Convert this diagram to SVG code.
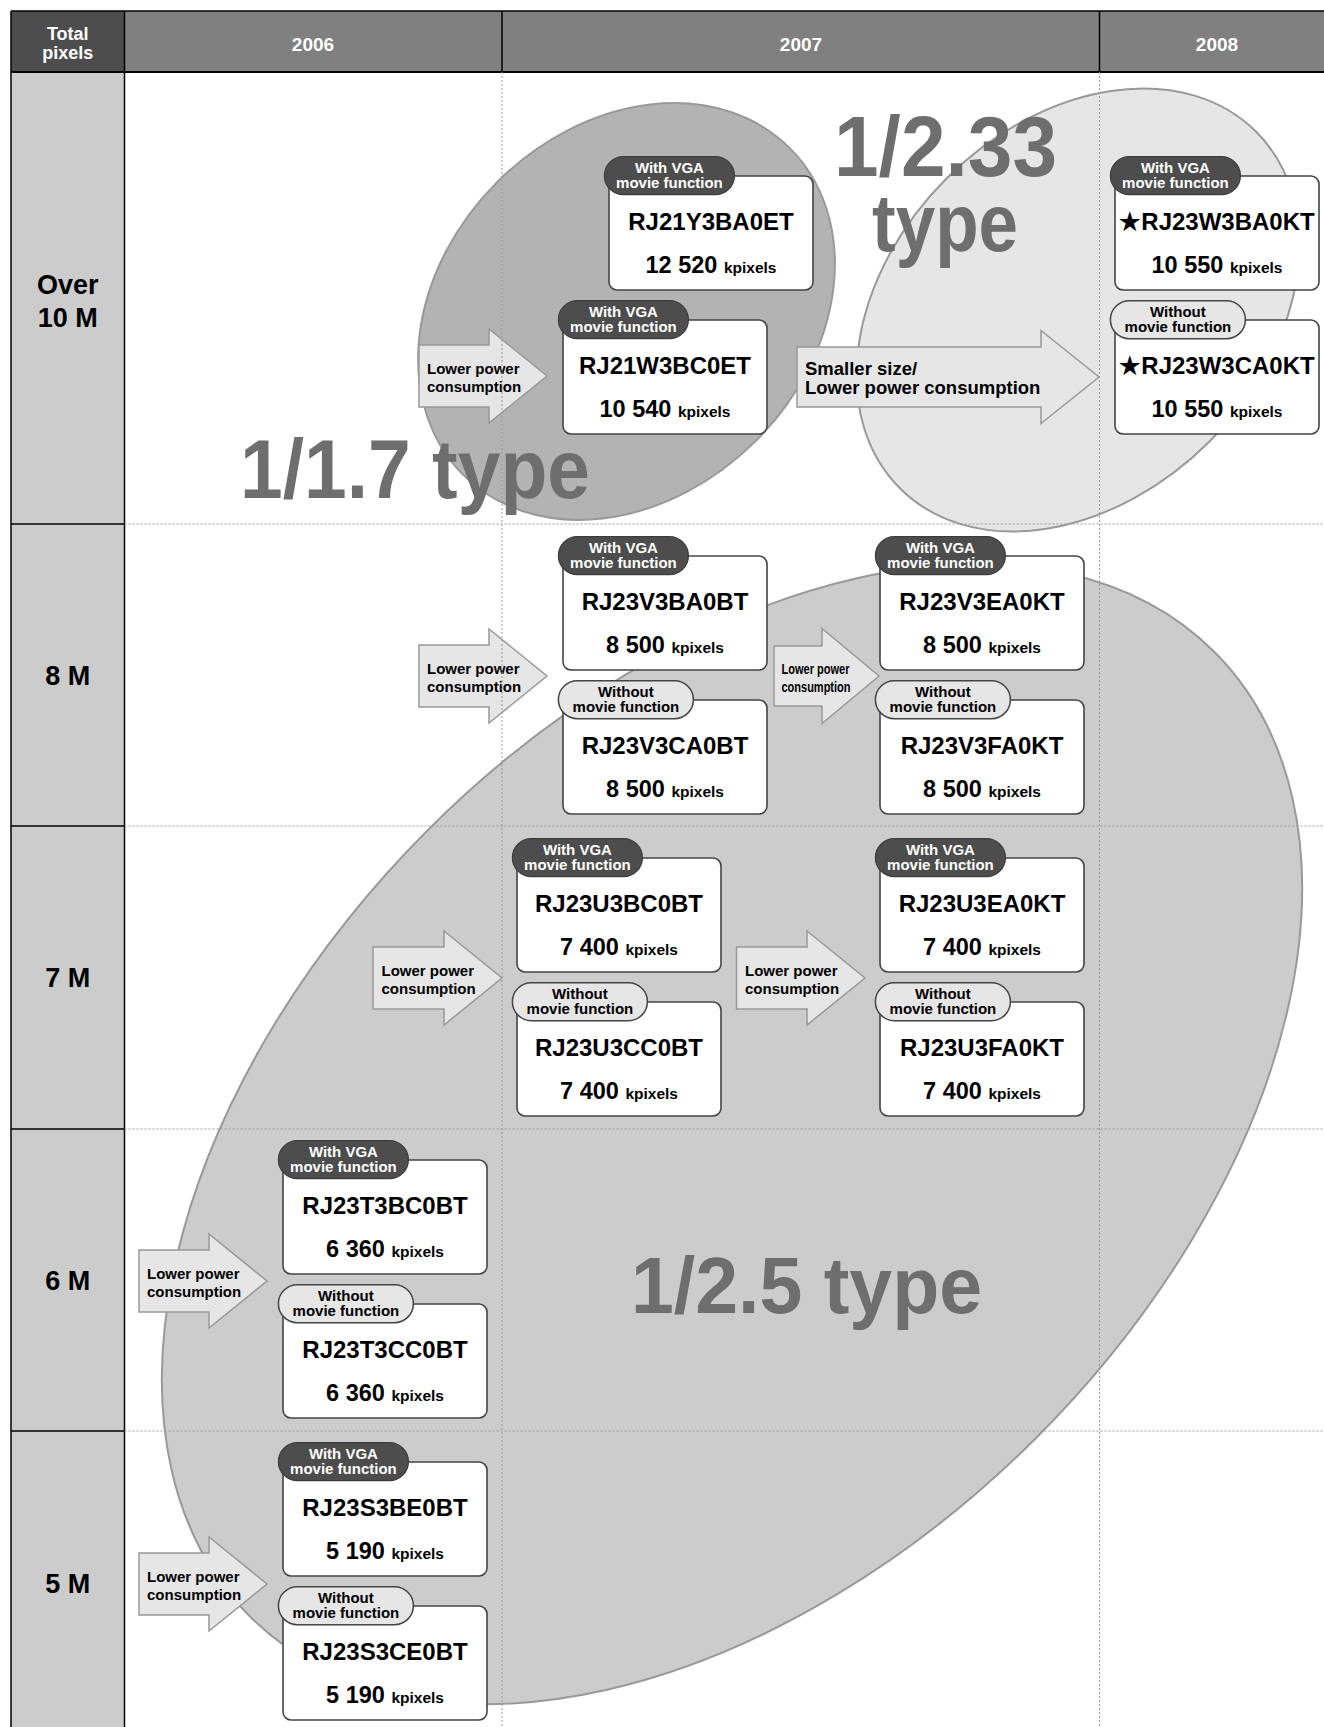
<svg xmlns="http://www.w3.org/2000/svg" width="1324" height="1727" viewBox="0 0 1324 1727">
<defs>
<style>
text{font-family:"Liberation Sans",Arial,Helvetica,sans-serif;font-weight:bold}
.box{fill:#fff;stroke:#444;stroke-width:1.6}
.tagd{fill:#4d4d4d;stroke:#3c3c3c;stroke-width:1.2}
.tagl{fill:#e6e6e6;stroke:#444;stroke-width:1.5}
.tt{font-size:15px;text-anchor:middle}
.tw{fill:#fff}
.tb{fill:#000}
.model{font-size:24px;text-anchor:middle;fill:#000}
.num{font-size:23.5px;text-anchor:middle;fill:#000}
.kp{font-size:15.5px}
.arr{fill:#e6e6e6;stroke:#999;stroke-width:1.5}
.at{font-size:15px;fill:#000}
.atb{font-size:18.5px;fill:#000}
.grid{stroke:#999;stroke-width:1;stroke-dasharray:2 2;fill:none}
.big{fill:#6e6e6e}
.hd{fill:#fff;font-size:19px;text-anchor:middle}
.hd2{fill:#fff;font-size:18px;text-anchor:middle}
.rl{font-size:27px;text-anchor:middle;fill:#000}
.ell{stroke:#999;stroke-width:2}
</style>
</defs>
<rect x="0" y="0" width="1324" height="1727" fill="#fff"/>

<g id="table">
<rect x="11" y="11" width="113.5" height="61" fill="#4d4d4d"/>
<rect x="124.5" y="11" width="1200" height="61" fill="#808080"/>
<rect x="11" y="72" width="113.5" height="1660" fill="#ccc"/>
<g stroke="#000" fill="none">
<line x1="11" y1="11" x2="1324" y2="11" stroke-width="1.5"/>
<line x1="11" y1="72" x2="1324" y2="72" stroke-width="2"/>
<line x1="11" y1="11" x2="11" y2="1727" stroke-width="1.5"/>
<line x1="124.5" y1="11" x2="124.5" y2="1727" stroke-width="1.5"/>
<line x1="502" y1="11" x2="502" y2="72" stroke-width="1.5"/>
<line x1="1099.5" y1="11" x2="1099.5" y2="72" stroke-width="1.5"/>
<line x1="11" y1="524" x2="124.5" y2="524" stroke-width="1.5"/>
<line x1="11" y1="826" x2="124.5" y2="826" stroke-width="1.5"/>
<line x1="11" y1="1129" x2="124.5" y2="1129" stroke-width="1.5"/>
<line x1="11" y1="1431" x2="124.5" y2="1431" stroke-width="1.5"/>
</g>
<text class="hd2" x="67.75" y="40">Total</text>
<text class="hd2" x="67.75" y="59">pixels</text>
<text class="hd" x="313" y="50.5">2006</text>
<text class="hd" x="801" y="50.5">2007</text>
<text class="hd" x="1217" y="50.5">2008</text>
<text class="rl" x="67.75" y="294">Over</text>
<text class="rl" x="67.75" y="327">10 M</text>
<text class="rl" x="67.75" y="684.5">8 M</text>
<text class="rl" x="67.75" y="987">7 M</text>
<text class="rl" x="67.75" y="1290">6 M</text>
<text class="rl" x="67.75" y="1593">5 M</text>
</g>

<g id="areas">
<ellipse class="ell" cx="732" cy="1134" rx="682" ry="430" transform="rotate(-45 732 1134)" fill="#ccc"/>
<ellipse class="ell" cx="626.5" cy="311.5" rx="231" ry="183" transform="rotate(-45 626.5 311.5)" fill="#b3b3b3" stroke-width="1.5"/>
<ellipse class="ell" cx="1078" cy="310" rx="252" ry="186" transform="rotate(-45 1078 310)" fill="#e6e6e6" stroke-width="1.5"/>
<text class="big" x="834" y="176" font-size="86" textLength="223" lengthAdjust="spacingAndGlyphs">1/2.33</text>
<text class="big" x="872" y="251" font-size="82" textLength="146" lengthAdjust="spacingAndGlyphs">type</text>
<text class="big" x="240" y="498" font-size="84" textLength="350" lengthAdjust="spacingAndGlyphs">1/1.7 type</text>
<text class="big" x="631" y="1313" font-size="80" textLength="351" lengthAdjust="spacingAndGlyphs">1/2.5 type</text>
</g>

<g id="connectors">
<path class="arr" d="M419,345 H489 V329 L547,376 L489,423 V407 H419 Z"/>
<text class="at" x="427" y="374">Lower power</text>
<text class="at" x="427" y="391.5">consumption</text>

<path class="arr" d="M797,347 H1041 V330.5 L1099,377 L1041,423.5 V407 H797 Z"/>
<text class="atb" x="805" y="375">Smaller size/</text>
<text class="atb" x="805" y="393.5">Lower power consumption</text>

<path class="arr" d="M419,645 H489 V629 L547,676 L489,723 V707 H419 Z"/>
<text class="at" x="427" y="674">Lower power</text>
<text class="at" x="427" y="691.5">consumption</text>

<path class="arr" d="M774,646 H822 V628.5 L879,676 L822,723.5 V706 H774 Z"/>
<text class="at" x="781.5" y="674" textLength="68" lengthAdjust="spacingAndGlyphs">Lower power</text>
<text class="at" x="781.5" y="691.5" textLength="69" lengthAdjust="spacingAndGlyphs">consumption</text>

<path class="arr" d="M373,947 H444 V931 L502,978 L444,1025 V1009 H373 Z"/>
<text class="at" x="381.5" y="976">Lower power</text>
<text class="at" x="381.5" y="993.5">consumption</text>

<path class="arr" d="M736.5,947 H807 V931 L865,978 L807,1025 V1009 H736.5 Z"/>
<text class="at" x="745" y="976">Lower power</text>
<text class="at" x="745" y="993.5">consumption</text>

<path class="arr" d="M139,1250 H209 V1234 L267,1281 L209,1328 V1312 H139 Z"/>
<text class="at" x="147" y="1279">Lower power</text>
<text class="at" x="147" y="1296.5">consumption</text>

<path class="arr" d="M139,1553 H209 V1537 L267,1584 L209,1631 V1615 H139 Z"/>
<text class="at" x="147" y="1582">Lower power</text>
<text class="at" x="147" y="1599.5">consumption</text>
</g>

<g id="grid" class="grid">
<line x1="502" y1="72" x2="502" y2="1727"/>
<line x1="1099.5" y1="72" x2="1099.5" y2="1727"/>
<line x1="124.5" y1="524" x2="1324" y2="524"/>
<line x1="124.5" y1="826" x2="1324" y2="826"/>
<line x1="124.5" y1="1129" x2="1324" y2="1129"/>
<line x1="124.5" y1="1431" x2="1324" y2="1431"/>
</g>

<g id="n-RJ21Y3BA0ET" transform="translate(609,176)">
<rect class="box" width="204" height="114" rx="8"/>
<rect class="tagd" x="-4.6" y="-19.3" width="130" height="38" rx="19"/>
<text class="tt tw" x="60.4" y="-2.6">With VGA</text><text class="tt tw" x="60.4" y="12.4">movie function</text>
<text class="model" x="102" y="54">RJ21Y3BA0ET</text>
<text class="num" x="102" y="97">12 520 <tspan class="kp">kpixels</tspan></text>
</g>
<g id="n-RJ21W3BC0ET" transform="translate(563,320)">
<rect class="box" width="204" height="114" rx="8"/>
<rect class="tagd" x="-4.6" y="-19.3" width="130" height="38" rx="19"/>
<text class="tt tw" x="60.4" y="-2.6">With VGA</text><text class="tt tw" x="60.4" y="12.4">movie function</text>
<text class="model" x="102" y="54">RJ21W3BC0ET</text>
<text class="num" x="102" y="97">10 540 <tspan class="kp">kpixels</tspan></text>
</g>
<g id="n-RJ23W3BA0KT" transform="translate(1115,176)">
<rect class="box" width="204" height="114" rx="8"/>
<rect class="tagd" x="-4.6" y="-19.3" width="130" height="38" rx="19"/>
<text class="tt tw" x="60.4" y="-2.6">With VGA</text><text class="tt tw" x="60.4" y="12.4">movie function</text>
<text class="model" x="102" y="54">★RJ23W3BA0KT</text>
<text class="num" x="102" y="97">10 550 <tspan class="kp">kpixels</tspan></text>
</g>
<g id="n-RJ23W3CA0KT" transform="translate(1115,320)">
<rect class="box" width="204" height="114" rx="8"/>
<rect class="tagl" x="-4.6" y="-19.3" width="135" height="38" rx="19"/>
<text class="tt tb" x="62.9" y="-2.6">Without</text><text class="tt tb" x="62.9" y="12.4">movie function</text>
<text class="model" x="102" y="54">★RJ23W3CA0KT</text>
<text class="num" x="102" y="97">10 550 <tspan class="kp">kpixels</tspan></text>
</g>

<g id="n-RJ23V3BA0BT" transform="translate(563,556)">
<rect class="box" width="204" height="114" rx="8"/>
<rect class="tagd" x="-4.6" y="-19.3" width="130" height="38" rx="19"/>
<text class="tt tw" x="60.4" y="-2.6">With VGA</text><text class="tt tw" x="60.4" y="12.4">movie function</text>
<text class="model" x="102" y="54">RJ23V3BA0BT</text>
<text class="num" x="102" y="97">8 500 <tspan class="kp">kpixels</tspan></text>
</g>
<g id="n-RJ23V3CA0BT" transform="translate(563,700)">
<rect class="box" width="204" height="114" rx="8"/>
<rect class="tagl" x="-4.6" y="-19.3" width="135" height="38" rx="19"/>
<text class="tt tb" x="62.9" y="-2.6">Without</text><text class="tt tb" x="62.9" y="12.4">movie function</text>
<text class="model" x="102" y="54">RJ23V3CA0BT</text>
<text class="num" x="102" y="97">8 500 <tspan class="kp">kpixels</tspan></text>
</g>
<g id="n-RJ23V3EA0KT" transform="translate(880,556)">
<rect class="box" width="204" height="114" rx="8"/>
<rect class="tagd" x="-4.6" y="-19.3" width="130" height="38" rx="19"/>
<text class="tt tw" x="60.4" y="-2.6">With VGA</text><text class="tt tw" x="60.4" y="12.4">movie function</text>
<text class="model" x="102" y="54">RJ23V3EA0KT</text>
<text class="num" x="102" y="97">8 500 <tspan class="kp">kpixels</tspan></text>
</g>
<g id="n-RJ23V3FA0KT" transform="translate(880,700)">
<rect class="box" width="204" height="114" rx="8"/>
<rect class="tagl" x="-4.6" y="-19.3" width="135" height="38" rx="19"/>
<text class="tt tb" x="62.9" y="-2.6">Without</text><text class="tt tb" x="62.9" y="12.4">movie function</text>
<text class="model" x="102" y="54">RJ23V3FA0KT</text>
<text class="num" x="102" y="97">8 500 <tspan class="kp">kpixels</tspan></text>
</g>

<g id="n-RJ23U3BC0BT" transform="translate(517,858)">
<rect class="box" width="204" height="114" rx="8"/>
<rect class="tagd" x="-4.6" y="-19.3" width="130" height="38" rx="19"/>
<text class="tt tw" x="60.4" y="-2.6">With VGA</text><text class="tt tw" x="60.4" y="12.4">movie function</text>
<text class="model" x="102" y="54">RJ23U3BC0BT</text>
<text class="num" x="102" y="97">7 400 <tspan class="kp">kpixels</tspan></text>
</g>
<g id="n-RJ23U3CC0BT" transform="translate(517,1002)">
<rect class="box" width="204" height="114" rx="8"/>
<rect class="tagl" x="-4.6" y="-19.3" width="135" height="38" rx="19"/>
<text class="tt tb" x="62.9" y="-2.6">Without</text><text class="tt tb" x="62.9" y="12.4">movie function</text>
<text class="model" x="102" y="54">RJ23U3CC0BT</text>
<text class="num" x="102" y="97">7 400 <tspan class="kp">kpixels</tspan></text>
</g>
<g id="n-RJ23U3EA0KT" transform="translate(880,858)">
<rect class="box" width="204" height="114" rx="8"/>
<rect class="tagd" x="-4.6" y="-19.3" width="130" height="38" rx="19"/>
<text class="tt tw" x="60.4" y="-2.6">With VGA</text><text class="tt tw" x="60.4" y="12.4">movie function</text>
<text class="model" x="102" y="54">RJ23U3EA0KT</text>
<text class="num" x="102" y="97">7 400 <tspan class="kp">kpixels</tspan></text>
</g>
<g id="n-RJ23U3FA0KT" transform="translate(880,1002)">
<rect class="box" width="204" height="114" rx="8"/>
<rect class="tagl" x="-4.6" y="-19.3" width="135" height="38" rx="19"/>
<text class="tt tb" x="62.9" y="-2.6">Without</text><text class="tt tb" x="62.9" y="12.4">movie function</text>
<text class="model" x="102" y="54">RJ23U3FA0KT</text>
<text class="num" x="102" y="97">7 400 <tspan class="kp">kpixels</tspan></text>
</g>

<g id="n-RJ23T3BC0BT" transform="translate(283,1160)">
<rect class="box" width="204" height="114" rx="8"/>
<rect class="tagd" x="-4.6" y="-19.3" width="130" height="38" rx="19"/>
<text class="tt tw" x="60.4" y="-2.6">With VGA</text><text class="tt tw" x="60.4" y="12.4">movie function</text>
<text class="model" x="102" y="54">RJ23T3BC0BT</text>
<text class="num" x="102" y="97">6 360 <tspan class="kp">kpixels</tspan></text>
</g>
<g id="n-RJ23T3CC0BT" transform="translate(283,1304)">
<rect class="box" width="204" height="114" rx="8"/>
<rect class="tagl" x="-4.6" y="-19.3" width="135" height="38" rx="19"/>
<text class="tt tb" x="62.9" y="-2.6">Without</text><text class="tt tb" x="62.9" y="12.4">movie function</text>
<text class="model" x="102" y="54">RJ23T3CC0BT</text>
<text class="num" x="102" y="97">6 360 <tspan class="kp">kpixels</tspan></text>
</g>

<g id="n-RJ23S3BE0BT" transform="translate(283,1462)">
<rect class="box" width="204" height="114" rx="8"/>
<rect class="tagd" x="-4.6" y="-19.3" width="130" height="38" rx="19"/>
<text class="tt tw" x="60.4" y="-2.6">With VGA</text><text class="tt tw" x="60.4" y="12.4">movie function</text>
<text class="model" x="102" y="54">RJ23S3BE0BT</text>
<text class="num" x="102" y="97">5 190 <tspan class="kp">kpixels</tspan></text>
</g>
<g id="n-RJ23S3CE0BT" transform="translate(283,1606)">
<rect class="box" width="204" height="114" rx="8"/>
<rect class="tagl" x="-4.6" y="-19.3" width="135" height="38" rx="19"/>
<text class="tt tb" x="62.9" y="-2.6">Without</text><text class="tt tb" x="62.9" y="12.4">movie function</text>
<text class="model" x="102" y="54">RJ23S3CE0BT</text>
<text class="num" x="102" y="97">5 190 <tspan class="kp">kpixels</tspan></text>
</g>
</svg>
